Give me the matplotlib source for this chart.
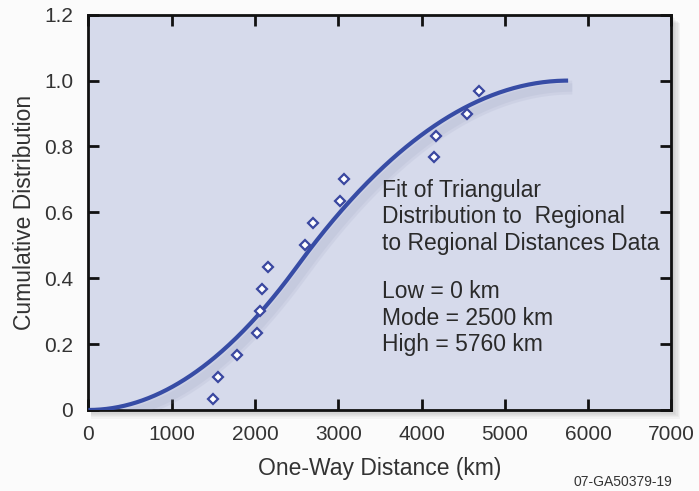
import numpy as np
import matplotlib
matplotlib.use("Agg")
import matplotlib.pyplot as plt
import matplotlib.patheffects as pe

plt.rcParams['font.family'] = ['Liberation Sans', 'DejaVu Sans']

# Triangular distribution parameters (km)
low_km = 0
mode_km = 2500
high_km = 5760

# Observed one-way distances and their cumulative fractions
obs_distance = [1500, 1550, 1780, 2020, 2065, 2080, 2160, 2605, 2700,
                3025, 3070, 4150, 4170, 4540, 4690]
obs_cdf = [0.033, 0.100, 0.167, 0.233, 0.300, 0.367, 0.433, 0.500, 0.567,
           0.633, 0.700, 0.767, 0.833, 0.900, 0.967]

x_ticks = [0, 1000, 2000, 3000, 4000, 5000, 6000, 7000]
y_ticks = [0, 0.2, 0.4, 0.6, 0.8, 1.0, 1.2]
y_tick_labels = ["0", "0.2", "0.4", "0.6", "0.8", "1.0", "1.2"]


def triangular_cdf(x, a, c, b):
    x = np.asarray(x, dtype=float)
    out = np.where(x <= c,
                   (x - a) ** 2 / ((b - a) * (c - a)),
                   1 - (b - x) ** 2 / ((b - a) * (b - c)))
    return np.clip(out, 0, 1)


fig = plt.figure(figsize=(6.99, 4.91), dpi=100, facecolor="#fbfbfb")
ax = fig.add_axes([0.1265, 0.165, 0.834, 0.805])
ax.set_zorder(2)
ax.set_facecolor("#d6daeb")

# soft drop shadow behind the plotting area
pos = ax.get_position()
for i in range(7):
    off = 0.0025 * (i + 1)
    fig.patches.append(plt.Rectangle((pos.x0 + 0.004, pos.y0 - off),
                                     pos.width - 0.004 + off * 0.7, pos.height,
                                     transform=fig.transFigure,
                                     facecolor="#707070", alpha=0.06,
                                     edgecolor="none", zorder=-1))

xs = np.linspace(low_km, high_km, 400)
ax.plot(xs, triangular_cdf(xs, low_km, mode_km, high_km),
        color="#374ca5", lw=3.0, solid_capstyle="butt", zorder=3,
        path_effects=[pe.SimpleLineShadow(offset=(3, -5), shadow_color="#9098b8", alpha=0.12, linewidth=10),
                      pe.SimpleLineShadow(offset=(3, -5), shadow_color="#9098b8", alpha=0.12, linewidth=6),
                      pe.Normal()])
ax.plot(obs_distance, obs_cdf, linestyle="none", marker="D", markersize=5.5,
        markerfacecolor="white", markeredgecolor="#3a47a0", markeredgewidth=1.6,
        zorder=4)

ax.set_xlim(0, 7000)
ax.set_ylim(0, 1.2)
ax.set_xticks(x_ticks)
ax.set_yticks(y_ticks)
ax.set_yticklabels(y_tick_labels)
ax.tick_params(direction="in", length=8, width=2, top=True, right=True,
               labelsize=15, colors="#111111", labelcolor="#333333", pad=11)
for s in ax.spines.values():
    s.set_linewidth(2)
    s.set_color("#111111")

ax.set_xlabel("One-Way Distance (km)", fontsize=16.5, color="#333333", labelpad=9)
ax.set_ylabel("Cumulative Distribution", fontsize=16.5, color="#333333", labelpad=6)

ax.text(3520, 0.586,
        "Fit of Triangular\nDistribution to  Regional\nto Regional Distances Data",
        fontsize=16.5, color="#2a2a2a", va="center", ha="left", linespacing=1.18)
ax.text(3520, 0.279,
        f"Low = {low_km} km\nMode = {mode_km} km\nHigh = {high_km} km",
        fontsize=16.5, color="#2a2a2a", va="center", ha="left", linespacing=1.18)

fig.text(0.962, 0.005, "07-GA50379-19", fontsize=10, color="#333333",
         ha="right", va="bottom")

fig.savefig("out.png", dpi=100, facecolor=fig.get_facecolor())
